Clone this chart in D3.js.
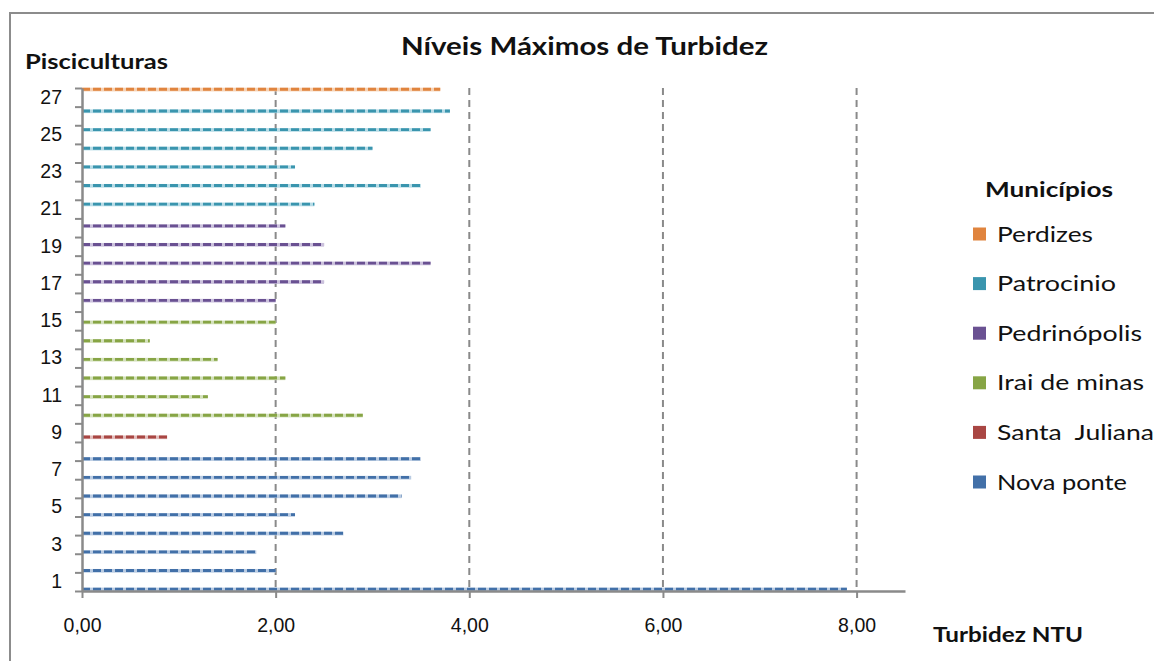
<!DOCTYPE html>
<html>
<head>
<meta charset="utf-8">
<script src="https://cdn.jsdelivr.net/npm/d3@7"></script>
<style>
  html, body { margin: 0; padding: 0; background: #fff; }
  svg { display: block; }
</style>
</head>
<body>
<svg id="chart" width="1154" height="661"></svg>
<script>
// Fish farms (pisciculturas) numbered 1..27
const pisciculturas = d3.range(1, 28);
// Maximum turbidity (NTU) per fish farm, farm 1 first
const turbidez = [7.9, 2.0, 1.8, 2.7, 2.2, 3.3, 3.4, 3.5,
                  0.88,
                  2.9, 1.3, 2.1, 1.4, 0.7, 2.0,
                  2.0, 2.5, 3.6, 2.5, 2.1,
                  2.4, 3.5, 2.2, 3.0, 3.6, 3.8,
                  3.7];
// Municipality of each fish farm
const municipio = [
  "Nova ponte", "Nova ponte", "Nova ponte", "Nova ponte", "Nova ponte", "Nova ponte", "Nova ponte", "Nova ponte",
  "Santa  Juliana",
  "Irai de minas", "Irai de minas", "Irai de minas", "Irai de minas", "Irai de minas", "Irai de minas",
  "Pedrinópolis", "Pedrinópolis", "Pedrinópolis", "Pedrinópolis", "Pedrinópolis",
  "Patrocinio", "Patrocinio", "Patrocinio", "Patrocinio", "Patrocinio", "Patrocinio",
  "Perdizes"
];
// Series order (first series sits at the bottom of each category)
const municipios = ["Nova ponte", "Santa  Juliana", "Irai de minas", "Pedrinópolis", "Patrocinio", "Perdizes"];
const cores = ["#4270a8", "#a94643", "#87a545", "#6a5192", "#3a95ae", "#e0843e"];
const tintas = ["#b9cbe2", "#e2bdbc", "#d3e0bb", "#cbc1dc", "#b6dbe6", "#f5d2b5"];
const xTicks = [0, 2, 4, 6, 8];

const svg = d3.select("#chart");
const W = 1154, H = 661;
const plotLeft = 82, plotRight = 905, plotTop = 88, plotBottom = 591;

// Outer frame (top and left edges visible)
svg.append("path")
  .attr("d", `M10,${H} L10,13 L${W},13`)
  .attr("fill", "none").attr("stroke", "#8c8c8c").attr("stroke-width", 2);

const x = d3.scaleLinear().domain([0, 8.5]).range([plotLeft, plotRight]);
const y = d3.scaleBand().domain(pisciculturas).range([plotBottom, plotTop]).paddingInner(0).paddingOuter(0);
const ySlot = d3.scaleBand().domain(municipios).range([y.bandwidth(), 0]).padding(0);
const color = d3.scaleOrdinal().domain(municipios).range(cores);
const tint = d3.scaleOrdinal().domain(municipios).range(tintas);

const loc = d3.formatLocale({ decimal: ",", thousands: ".", grouping: [3], currency: ["R$", ""] });
const fmt = loc.format(".2f");

// Dashed vertical gridlines
svg.append("g").selectAll("line")
  .data(xTicks.filter(d => d > 0))
  .join("line")
  .attr("x1", d => x(d)).attr("x2", d => x(d))
  .attr("y1", plotTop).attr("y2", plotBottom)
  .attr("stroke", "#8a8a8a").attr("stroke-width", 2)
  .attr("stroke-dasharray", "7,5");

// Bars
const rows = pisciculturas.map((p, i) => ({ p, v: turbidez[i], m: municipio[i] }));
const bars = svg.append("g");
bars.selectAll("rect")
  .data(rows)
  .join("rect")
  .attr("x", x(0))
  .attr("y", d => y(d.p) + ySlot(d.m) - 0.3)
  .attr("width", d => x(d.v) - x(0))
  .attr("height", ySlot.bandwidth() + 0.6)
  .attr("fill", d => tint(d.m));
bars.selectAll("line")
  .data(rows)
  .join("line")
  .attr("x1", x(0))
  .attr("x2", d => x(d.v))
  .attr("y1", d => y(d.p) + ySlot(d.m) + ySlot.bandwidth() * 0.4)
  .attr("y2", d => y(d.p) + ySlot(d.m) + ySlot.bandwidth() * 0.4)
  .attr("stroke", d => color(d.m))
  .attr("stroke-width", 2.8)
  .attr("stroke-dasharray", "8,3");

// Y axis: boundary ticks and odd labels
const yLin = d3.scaleLinear().domain([0, 27]).range([plotBottom, plotTop]);
const yAxisTicks = svg.append("g").attr("transform", `translate(${plotLeft},0)`)
  .call(d3.axisLeft(yLin).tickValues(d3.range(0, 28)).tickSize(7).tickSizeOuter(0).tickFormat(""));
yAxisTicks.selectAll("line").attr("stroke", "#8a8a8a").attr("stroke-width", 2);
yAxisTicks.select(".domain").attr("stroke", "#8a8a8a").attr("stroke-width", 2.5);

const yAxisLabels = svg.append("g").attr("transform", `translate(${plotLeft},0)`)
  .call(d3.axisLeft(y).tickValues(pisciculturas.filter(d => d % 2 === 1)).tickSize(0).tickPadding(20));
yAxisLabels.select(".domain").remove();
yAxisLabels.selectAll("text")
  .attr("font-family", "Liberation Sans, Arial, sans-serif")
  .attr("font-size", 19.5).attr("fill", "#111");

// X axis
const xAxis = svg.append("g").attr("transform", `translate(0,${plotBottom})`)
  .call(d3.axisBottom(x).tickValues(xTicks).tickSize(7).tickSizeOuter(0).tickPadding(20).tickFormat(fmt));
xAxis.select(".domain").attr("stroke", "#8a8a8a").attr("stroke-width", 2.5);
xAxis.selectAll("line").attr("stroke", "#8a8a8a").attr("stroke-width", 2);
xAxis.selectAll("text")
  .attr("font-family", "Liberation Sans, Arial, sans-serif")
  .attr("font-size", 19.5).attr("fill", "#111");

// Titles
const sans = "Lato, 'Open Sans', sans-serif";
svg.append("text")
  .attr("x", 401).attr("y", 55)
  .attr("textLength", 367).attr("lengthAdjust", "spacingAndGlyphs")
  .attr("font-family", sans).attr("font-weight", "bold").attr("font-size", 25).attr("fill", "#111")
  .text("Níveis Máximos de Turbidez");
svg.append("text")
  .attr("x", 25).attr("y", 69)
  .attr("textLength", 143).attr("lengthAdjust", "spacingAndGlyphs")
  .attr("font-family", sans).attr("font-weight", "bold").attr("font-size", 20).attr("fill", "#111")
  .text("Pisciculturas");
svg.append("text")
  .attr("x", 933).attr("y", 642)
  .attr("textLength", 150).attr("lengthAdjust", "spacingAndGlyphs")
  .attr("font-family", sans).attr("font-weight", "bold").attr("font-size", 20).attr("fill", "#111")
  .text("Turbidez NTU");

// Legend
const legend = svg.append("g");
legend.append("text")
  .attr("x", 985).attr("y", 197)
  .attr("textLength", 128).attr("lengthAdjust", "spacingAndGlyphs")
  .attr("font-family", sans).attr("font-weight", "bold").attr("font-size", 21).attr("fill", "#111")
  .text("Municípios");
const legendOrder = municipios.slice().reverse();
const legendWidths = { "Perdizes": 96, "Patrocinio": 119, "Pedrinópolis": 145, "Irai de minas": 147, "Santa  Juliana": 157, "Nova ponte": 130 };
const item = legend.selectAll("g.item")
  .data(legendOrder)
  .join("g").attr("class", "item")
  .attr("transform", (d, i) => `translate(973,${234 + i * 49.6})`);
item.append("rect")
  .attr("x", 0).attr("y", -6.5).attr("width", 13).attr("height", 13)
  .attr("fill", d => color(d));
item.append("text")
  .attr("x", 24).attr("y", 7.5)
  .attr("textLength", d => legendWidths[d]).attr("lengthAdjust", "spacingAndGlyphs")
  .attr("font-family", sans).attr("font-size", 21).attr("fill", "#111")
  .style("white-space", "pre")
  .text(d => d);
</script>
</body>
</html>
